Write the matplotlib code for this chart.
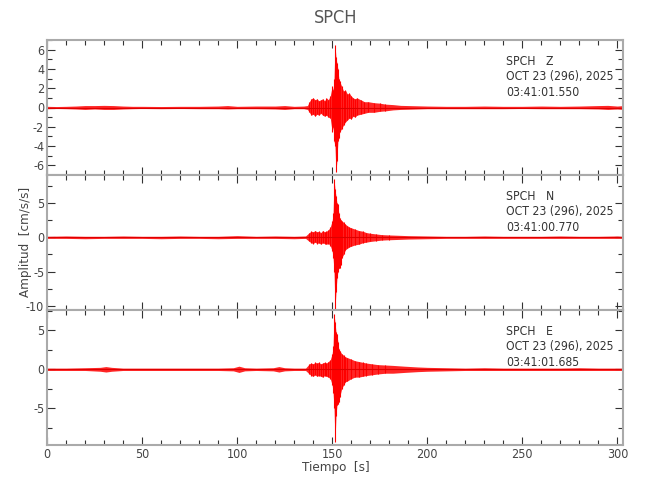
import numpy as np
import matplotlib
matplotlib.use('Agg')
import matplotlib.pyplot as plt
from matplotlib.ticker import MultipleLocator

plt.rcParams['font.family'] = ['DejaVu Sans']
plt.rcParams['font.stretch'] = 'condensed'
plt.rcParams['axes.unicode_minus'] = False

station = 'SPCH'
date_str = 'OCT 23 (296), 2025'
components = ['Z', 'N', 'E']
start_times = ['03:41:01.550', '03:41:00.770', '03:41:01.685']

# envelope of each trace: time [s], upper and lower peaks [cm/s/s]
t_z = [0, 5, 10, 15, 20, 25, 30, 35, 40, 45, 50, 60, 70, 80, 90, 95, 100, 110, 120, 125, 130, 135,
       137, 138, 139, 140, 141, 142, 143, 144, 145, 146, 147, 148, 149, 150, 150.5, 151, 151.5, 152,
       152.5, 153, 153.5, 154, 155, 156, 157, 158, 159, 160, 161, 162, 163, 165, 167, 169, 172, 175,
       178, 182, 186, 190, 200, 210, 220, 230, 240, 250, 260, 270, 280, 290, 295, 300, 303]
top_z = [0.12, 0.1, 0.12, 0.15, 0.2, 0.2, 0.22, 0.2, 0.15, 0.12, 0.12, 0.1, 0.12, 0.12, 0.15, 0.2, 0.12, 0.15, 0.15, 0.2, 0.12, 0.15,
         0.2, 0.6, 0.9, 1.0, 0.8, 0.9, 0.7, 0.8, 0.9, 0.7, 1.0, 0.8, 1.2, 2.2, 1.8, 3.0, 6.5, 5.2,
         4.6, 4.0, 3.0, 2.7, 2.2, 1.7, 1.8, 1.4, 1.5, 1.2, 1.0, 0.9, 1.0, 0.8, 0.6, 0.6, 0.5, 0.45,
         0.35, 0.3, 0.22, 0.2, 0.15, 0.12, 0.12, 0.15, 0.12, 0.12, 0.15, 0.12, 0.15, 0.2, 0.22, 0.15, 0.2]
bot_z = [-0.12, -0.1, -0.12, -0.15, -0.2, -0.15, -0.2, -0.2, -0.15, -0.12, -0.1, -0.12, -0.1, -0.12, -0.12, -0.15, -0.12, -0.12, -0.15, -0.2, -0.12, -0.12,
         -0.2, -0.5, -0.8, -0.7, -0.9, -0.7, -0.8, -0.6, -0.8, -0.9, -0.8, -1.0, -1.1, -2.5, -2.0, -3.5, -4.0, -6.7,
         -5.5, -3.5, -3.2, -2.5, -2.2, -1.8, -1.5, -1.3, -1.1, -1.2, -0.9, -1.0, -0.8, -0.7, -0.6, -0.5, -0.5, -0.4,
         -0.35, -0.25, -0.2, -0.18, -0.12, -0.12, -0.12, -0.12, -0.12, -0.1, -0.12, -0.12, -0.12, -0.15, -0.2, -0.15, -0.2]

t_n = [0, 10, 20, 30, 40, 50, 60, 70, 80, 90, 100, 110, 120, 130, 136,
       138, 139, 140, 141, 142, 143, 144, 145, 146, 147, 148, 149, 150, 150.5, 151, 151.5, 152,
       152.5, 153, 153.5, 154, 154.5, 155, 156, 157, 158, 159, 160, 162, 164, 166, 168, 170, 173,
       176, 180, 185, 190, 200, 210, 220, 230, 240, 250, 260, 270, 280, 290, 300, 303]
top_n = [0.15, 0.2, 0.15, 0.15, 0.2, 0.15, 0.15, 0.2, 0.15, 0.15, 0.25, 0.15, 0.2, 0.15, 0.2,
         0.7, 0.9, 0.8, 1.0, 0.8, 0.9, 0.7, 1.0, 0.8, 0.9, 1.1, 1.5, 2.4, 3.5, 8.5, 7.0, 6.0,
         5.0, 4.8, 3.5, 2.8, 2.6, 2.4, 2.2, 1.9, 1.7, 1.5, 1.4, 1.2, 1.0, 0.9, 0.7, 0.6, 0.5,
         0.4, 0.35, 0.3, 0.25, 0.2, 0.15, 0.15, 0.2, 0.15, 0.15, 0.15, 0.2, 0.15, 0.15, 0.2, 0.15]
bot_n = [-0.15, -0.15, -0.2, -0.15, -0.15, -0.15, -0.2, -0.15, -0.15, -0.2, -0.15, -0.15, -0.15, -0.2, -0.15,
         -0.6, -0.8, -0.9, -0.7, -0.9, -0.8, -1.0, -0.8, -0.9, -1.0, -0.9, -1.2, -2.0, -3.0, -5.0, -10.4, -8.0,
         -6.0, -5.0, -4.5, -4.5, -4.0, -3.0, -2.5, -1.8, -1.6, -1.4, -1.3, -1.1, -1.0, -0.8, -0.7, -0.6, -0.5,
         -0.4, -0.35, -0.3, -0.25, -0.2, -0.15, -0.15, -0.15, -0.15, -0.15, -0.15, -0.15, -0.15, -0.15, -0.15, -0.15]

t_e = [0, 10, 20, 28, 31, 34, 40, 50, 60, 70, 80, 90, 98, 101, 104, 110, 119, 122, 125, 130, 136,
       138, 139, 140, 141, 142, 143, 144, 145, 146, 147, 148, 149, 150, 150.5, 151, 151.5, 152,
       152.5, 153, 153.5, 154, 155, 156, 157, 158, 160, 162, 164, 166, 168, 171, 174, 178, 182,
       188, 195, 200, 210, 220, 230, 240, 250, 260, 270, 280, 290, 300, 303]
top_e = [0.15, 0.15, 0.2, 0.25, 0.35, 0.25, 0.15, 0.15, 0.15, 0.15, 0.15, 0.15, 0.2, 0.4, 0.2, 0.15, 0.2, 0.35, 0.2, 0.15, 0.15,
         0.7, 0.8, 0.7, 0.9, 0.8, 0.9, 0.7, 0.8, 0.9, 0.8, 1.0, 1.2, 2.0, 3.0, 7.1, 6.0, 4.8,
         4.5, 3.5, 2.6, 2.4, 2.0, 1.8, 1.6, 1.5, 1.3, 1.1, 1.0, 0.9, 0.8, 0.7, 0.6, 0.55, 0.5,
         0.4, 0.3, 0.25, 0.2, 0.15, 0.2, 0.15, 0.15, 0.15, 0.15, 0.2, 0.15, 0.15, 0.15]
bot_e = [-0.15, -0.15, -0.15, -0.25, -0.35, -0.25, -0.15, -0.15, -0.15, -0.15, -0.15, -0.15, -0.2, -0.4, -0.2, -0.15, -0.2, -0.35, -0.2, -0.15, -0.15,
         -0.6, -0.8, -0.9, -0.7, -0.9, -0.8, -0.9, -1.0, -0.8, -0.9, -1.0, -1.2, -2.0, -3.0, -5.0, -9.3, -6.0,
         -4.6, -4.5, -4.2, -3.5, -2.5, -2.0, -1.6, -1.5, -1.2, -1.0, -1.0, -0.9, -0.8, -0.7, -0.6, -0.5, -0.5,
         -0.4, -0.3, -0.25, -0.2, -0.15, -0.15, -0.15, -0.15, -0.15, -0.15, -0.15, -0.15, -0.15, -0.15]

traces = [(t_z, top_z, bot_z), (t_n, top_n, bot_n), (t_e, top_e, bot_e)]
ylims = [(-7, 7), (-10.6, 9.1), (-9.7, 7.6)]
ymajor = [2, 5, 5]
yminor = [1, 2.5, 2.5]

fig, axes = plt.subplots(3, 1, figsize=(6.5, 5), dpi=100, sharex=True)
fig.subplots_adjust(left=0.0723, right=0.9585, top=0.92, bottom=0.11, hspace=0)

for i, ax in enumerate(axes):
    t, top, bot = traces[i]
    t = np.array(t)
    top = np.array(top)
    bot = np.array(bot)
    ax.fill_between(t, bot, top, color='#ff0000', lw=0, alpha=0.85)
    # peaks of the strong motion as vertical strokes
    strong = (t >= 138) & (t <= 180)
    ax.vlines(t[strong], bot[strong], top[strong], color='#ff0000', lw=0.8)
    ax.axhline(0, color='#dd0000', lw=0.8)

    ax.set_xlim(0, 303)
    ax.set_ylim(*ylims[i])
    ax.xaxis.set_major_locator(MultipleLocator(50))
    ax.xaxis.set_minor_locator(MultipleLocator(10))
    ax.yaxis.set_major_locator(MultipleLocator(ymajor[i]))
    ax.yaxis.set_minor_locator(MultipleLocator(yminor[i]))
    ax.tick_params(which='both', direction='in', top=True, right=True, color='#333333',
                   labelcolor='#444444', labelsize=9, width=0.8, pad=2)
    ax.tick_params(which='major', length=6)
    ax.tick_params(which='minor', length=3.5)
    for s in ax.spines.values():
        s.set_color('#aaaaaa')
        s.set_linewidth(1.5)

    labels = [f'{station}   {components[i]}', date_str, start_times[i]]
    for j, txt in enumerate(labels):
        ax.text(0.797, 1 - (21 + 15.5 * j) / 134, txt, transform=ax.transAxes,
                ha='left', va='center', fontsize=8.7, color='#333333')

axes[-1].set_xticks([0, 50, 100, 150, 200, 250, 300])

fig.suptitle(station, x=0.516, y=0.964, va='center', fontsize=13, color='#555555')
fig.text(0.04, 0.516, 'Amplitud  [cm/s/s]', rotation=90, ha='center', va='center',
         fontsize=9.5, color='#444444')
fig.text(0.516, 0.066, 'Tiempo  [s]', ha='center', va='center', fontsize=9.5, color='#444444')

plt.savefig('out.png', dpi=100)
